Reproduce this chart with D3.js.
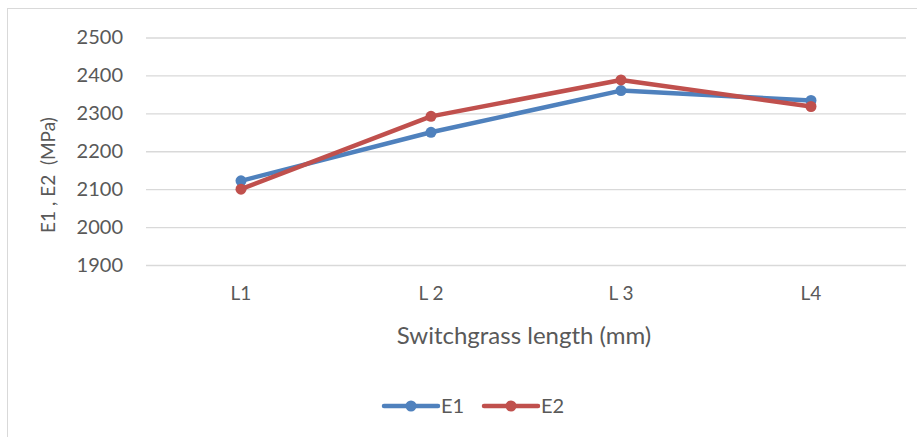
<!DOCTYPE html>
<html lang="en">
<head>
<meta charset="utf-8">
<title>Switchgrass length</title>
<script src="https://d3js.org/d3.v7.min.js"></script>
<style>
  body { margin: 0; background: #fff; }
  text { font-family: Lato, "Open Sans", sans-serif; fill: #595959; }
</style>
</head>
<body>
<script>
var categories = ["L1", "L 2", "L 3", "L4"];
var e1 = [2122, 2250, 2360, 2334];
var e2 = [2100, 2292, 2388, 2318];
var yTicks = [1900, 2000, 2100, 2200, 2300, 2400, 2500];
var seriesNames = ["E1", "E2"];
var colors = ["#4f81bd", "#c0504d"];

var W = 917, H = 437;
var margin = {top: 37.5, left: 146, right: 11, bottom: 172};
var width = W - margin.left - margin.right,
    height = H - margin.top - margin.bottom;

var svg = d3.select("body").append("svg")
  .attr("width", W).attr("height", H);

// chart border
svg.append("rect")
  .attr("x", 7.5).attr("y", 8.5)
  .attr("width", W + 10).attr("height", H + 10)
  .attr("fill", "none").attr("stroke", "#d9d9d9");

var g = svg.append("g")
  .attr("transform", "translate(" + margin.left + "," + margin.top + ")");

var x = d3.scaleBand().domain(categories).range([0, width]);
var y = d3.scaleLinear().domain([1900, 2500]).range([height, 0]);

// gridlines + y labels
var yAxis = g.append("g")
  .call(d3.axisLeft(y).tickValues(yTicks).tickSize(-width).tickPadding(23).tickFormat(d3.format("d")));
yAxis.select(".domain").remove();
yAxis.selectAll("line").attr("stroke", "#d9d9d9").attr("stroke-width", 1.3);
yAxis.selectAll("text").attr("font-size", 20).attr("fill", "#595959");

// x labels
var xAxis = g.append("g")
  .attr("transform", "translate(0," + height + ")")
  .call(d3.axisBottom(x).tickSize(0).tickPadding(22));
xAxis.select(".domain").remove();
xAxis.selectAll("text").attr("font-size", 19).attr("fill", "#595959");

// axis titles
svg.append("text")
  .attr("x", 524).attr("y", 344)
  .attr("text-anchor", "middle").attr("font-size", 24)
  .text("Switchgrass length (mm)");

svg.append("text")
  .attr("transform", "translate(55,175) rotate(-90)")
  .attr("text-anchor", "middle").attr("font-size", 19)
  .attr("xml:space", "preserve")
  .text("E1 , E2  (MPa)");

var line = d3.line()
  .x(function(d, i) { return x(categories[i]) + x.bandwidth() / 2; })
  .y(function(d) { return y(d); });

[e1, e2].forEach(function(s, k) {
  g.append("path")
    .datum(s)
    .attr("d", line)
    .attr("fill", "none")
    .attr("stroke", colors[k])
    .attr("stroke-width", 4.5)
    .attr("stroke-linejoin", "round")
    .attr("stroke-linecap", "round");
  g.selectAll(".pt" + k)
    .data(s)
    .enter().append("circle")
    .attr("cx", function(d, i) { return x(categories[i]) + x.bandwidth() / 2; })
    .attr("cy", function(d) { return y(d); })
    .attr("r", 5.5)
    .attr("fill", colors[k]);
});

// legend
var legend = svg.append("g");
seriesNames.forEach(function(name, k) {
  var lx = 384 + k * 100, ly = 406;
  legend.append("line")
    .attr("x1", lx).attr("x2", lx + 54)
    .attr("y1", ly).attr("y2", ly)
    .attr("stroke", colors[k]).attr("stroke-width", 4.5)
    .attr("stroke-linecap", "round");
  legend.append("circle")
    .attr("cx", lx + 27).attr("cy", ly).attr("r", 5.5)
    .attr("fill", colors[k]);
  legend.append("text")
    .attr("x", lx + 57).attr("y", ly + 7)
    .attr("font-size", 20)
    .text(name);
});
</script>
</body>
</html>
